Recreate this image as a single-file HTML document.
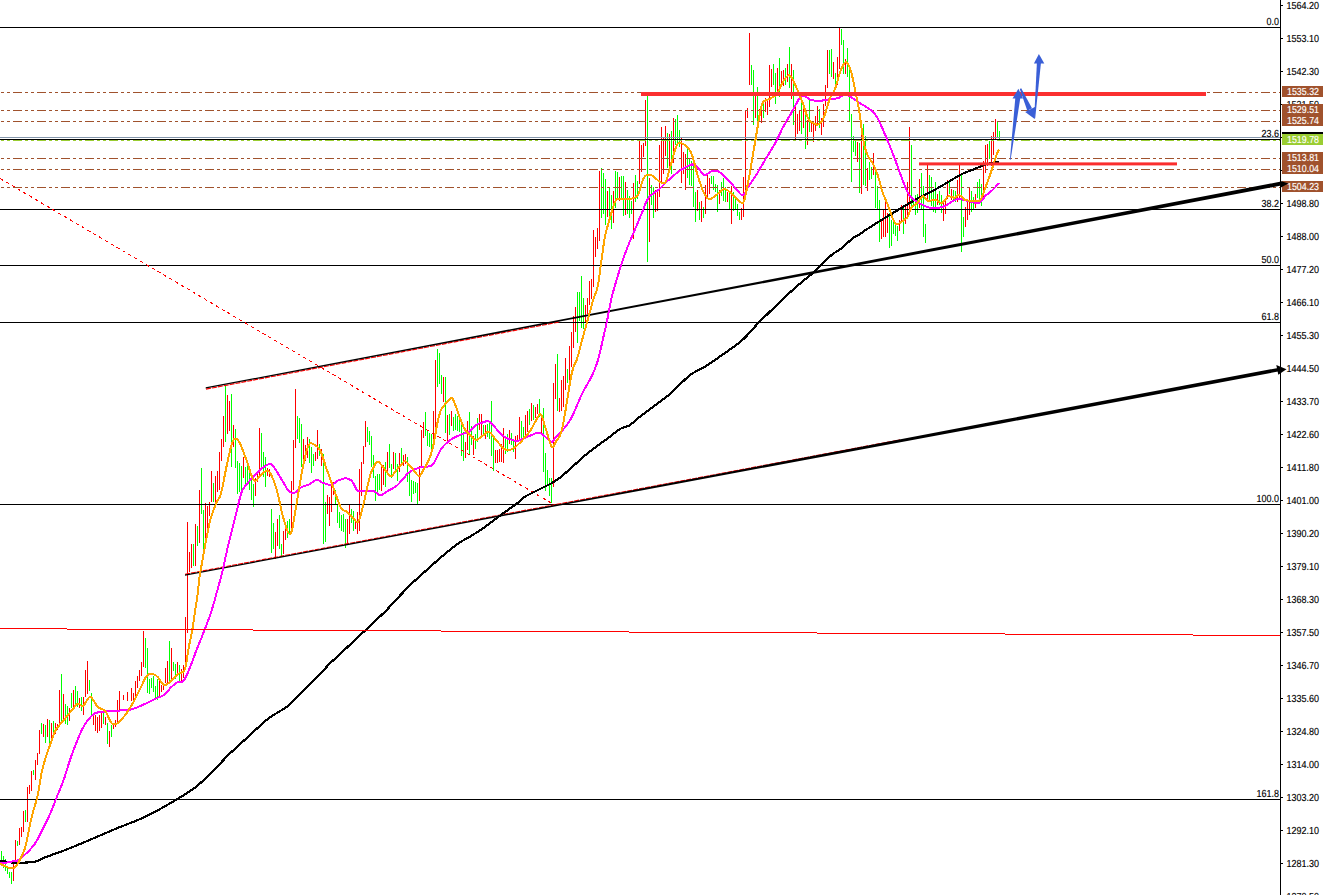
<!DOCTYPE html>
<html><head><meta charset="utf-8"><title>chart</title>
<style>html,body{margin:0;padding:0;background:#fff;overflow:hidden}body{width:1323px;height:895px;position:relative;font-family:"Liberation Sans",sans-serif}</style></head>
<body>
<svg width="1323" height="895" viewBox="0 0 1323 895" style="position:absolute;left:0;top:0">
<rect width="1323" height="895" fill="#fff"/>
<g shape-rendering="crispEdges">
<path d="M1 851v13h1v-13zM3 856v12h1v-12zM5 859v12h1v-12zM7 866v8h1v-8zM9 872v6h1v-6zM11 872v12h1v-12zM17 841v5h1v-5zM25 810v12h1v-12zM33 770v5h1v-5zM41 723v11h1v-11zM45 725v18h1v-18zM49 720v24h1v-24zM53 721v16h1v-16zM61 674v49h1v-49zM65 704v20h1v-20zM67 706v19h1v-19zM71 693v15h1v-15zM75 686v18h1v-18zM77 691v16h1v-16zM81 697v14h1v-14zM89 680v11h1v-11zM91 693v24h1v-24zM103 713v11h1v-11zM107 723v21h1v-21zM111 725v12h1v-12zM145 638v30h1v-30zM147 648v45h1v-45zM149 679v15h1v-15zM151 678v10h1v-10zM153 676v16h1v-16zM155 686v14h1v-14zM157 679v21h1v-21zM169 641v40h1v-40zM173 662v9h1v-9zM175 664v15h1v-15zM179 665v16h1v-16zM193 544v22h1v-22zM197 526v20h1v-20zM201 468v46h1v-46zM203 510v47h1v-47zM213 483v19h1v-19zM225 386v56h1v-56zM231 394v73h1v-73zM235 429v39h1v-39zM237 461v33h1v-33zM239 463v29h1v-29zM241 466v27h1v-27zM245 467v20h1v-20zM247 466v19h1v-19zM249 469v21h1v-21zM251 478v22h1v-22zM253 484v23h1v-23zM261 433v36h1v-36zM263 452v25h1v-25zM265 457v30h1v-30zM271 509v44h1v-44zM273 523v26h1v-26zM279 515v34h1v-34zM281 544v13h1v-13zM287 521v17h1v-17zM289 519v15h1v-15zM297 416v23h1v-23zM299 418v25h1v-25zM301 424v43h1v-43zM309 439v24h1v-24zM311 447v26h1v-26zM313 454v12h1v-12zM319 444v12h1v-12zM323 454v90h1v-90zM325 502v40h1v-40zM335 490v14h1v-14zM337 504v19h1v-19zM339 512v16h1v-16zM341 515v16h1v-16zM343 514v18h1v-18zM345 519v29h1v-29zM351 509v14h1v-14zM353 511v20h1v-20zM367 427v15h1v-15zM369 431v14h1v-14zM371 436v31h1v-31zM373 455v23h1v-23zM375 476v25h1v-25zM377 474v18h1v-18zM379 474v16h1v-16zM385 462v25h1v-25zM389 444v24h1v-24zM391 464v14h1v-14zM395 453v18h1v-18zM397 464v17h1v-17zM401 448v18h1v-18zM407 457v25h1v-25zM409 472v24h1v-24zM411 480v22h1v-22zM413 481v13h1v-13zM415 482v11h1v-11zM417 483v21h1v-21zM425 412v24h1v-24zM427 431v15h1v-15zM429 433v14h1v-14zM431 434v20h1v-20zM437 349v38h1v-38zM439 353v31h1v-31zM441 375v19h1v-19zM445 377v56h1v-56zM449 414v21h1v-21zM453 417v14h1v-14zM455 414v16h1v-16zM457 416v15h1v-15zM459 417v15h1v-15zM461 421v35h1v-35zM463 432v29h1v-29zM469 412v42h1v-42zM471 426v19h1v-19zM475 434v15h1v-15zM477 418v24h1v-24zM483 425v9h1v-9zM487 424v13h1v-13zM489 423v16h1v-16zM491 401v55h1v-55zM493 435v36h1v-36zM505 436v18h1v-18zM507 434v18h1v-18zM511 433v12h1v-12zM513 441v11h1v-11zM521 421v18h1v-18zM523 427v10h1v-10zM529 409v16h1v-16zM533 405v15h1v-15zM539 399v18h1v-18zM543 408v64h1v-64zM545 453v38h1v-38zM547 470v16h1v-16zM549 478v18h1v-18zM551 478v25h1v-25zM557 354v57h1v-57zM567 369v14h1v-14zM577 292v51h1v-51zM579 292v29h1v-29zM581 276v52h1v-52zM583 298v31h1v-31zM601 168v50h1v-50zM603 173v41h1v-41zM605 179v46h1v-46zM609 187v31h1v-31zM611 195v34h1v-34zM615 171v37h1v-37zM617 172v26h1v-26zM621 176v22h1v-22zM623 176v40h1v-40zM627 190v24h1v-24zM629 196v22h1v-22zM631 201v13h1v-13zM635 175v27h1v-27zM637 181v18h1v-18zM647 96v166h1v-166zM651 185v20h1v-20zM653 187v31h1v-31zM667 133v35h1v-35zM671 131v43h1v-43zM675 119v26h1v-26zM677 115v28h1v-28zM679 130v17h1v-17zM687 149v29h1v-29zM689 159v26h1v-26zM691 161v25h1v-25zM693 165v42h1v-42zM695 192v30h1v-30zM699 202v18h1v-18zM703 207v11h1v-11zM711 176v8h1v-8zM713 176v14h1v-14zM715 184v8h1v-8zM717 185v27h1v-27zM721 182v14h1v-14zM723 178v23h1v-23zM725 187v15h1v-15zM729 192v18h1v-18zM733 192v19h1v-19zM735 198v11h1v-11zM737 204v12h1v-12zM739 212v8h1v-8zM751 65v20h1v-20zM753 70v55h1v-55zM757 87v35h1v-35zM763 104v14h1v-14zM773 64v21h1v-21zM775 73v31h1v-31zM779 58v39h1v-39zM785 68v17h1v-17zM789 47v41h1v-41zM793 70v55h1v-55zM801 96v38h1v-38zM805 109v40h1v-40zM809 99v33h1v-33zM819 109v19h1v-19zM829 50v24h1v-24zM831 49v28h1v-28zM835 73v13h1v-13zM841 29v16h1v-16zM843 40v34h1v-34zM847 48v29h1v-29zM849 65v56h1v-56zM851 114v68h1v-68zM853 136v16h1v-16zM855 139v17h1v-17zM859 143v50h1v-50zM863 124v61h1v-61zM865 136v50h1v-50zM869 162v18h1v-18zM871 167v12h1v-12zM875 171v37h1v-37zM877 186v23h1v-23zM879 200v42h1v-42zM889 213v35h1v-35zM891 220v26h1v-26zM893 218v16h1v-16zM895 224v12h1v-12zM897 226v15h1v-15zM903 205v29h1v-29zM911 145v61h1v-61zM913 199v6h1v-6zM915 195v20h1v-20zM917 194v19h1v-19zM921 173v36h1v-36zM923 186v51h1v-51zM925 224v19h1v-19zM929 175v25h1v-25zM931 177v29h1v-29zM933 189v23h1v-23zM935 182v31h1v-31zM939 191v14h1v-14zM941 195v18h1v-18zM949 181v13h1v-13zM953 190v10h1v-10zM955 191v11h1v-11zM961 173v79h1v-79zM963 217v20h1v-20zM971 191v21h1v-21zM973 197v12h1v-12zM977 182v16h1v-16zM979 179v24h1v-24zM981 184v22h1v-22zM989 141v18h1v-18zM997 122v15h1v-15zM999 131v10h1v-10z" fill="#00ff00"/>
<path d="M13 860v21h1v-21zM15 840v23h1v-23zM19 828v17h1v-17zM21 827v10h1v-10zM23 811v21h1v-21zM27 787v35h1v-35zM29 785v9h1v-9zM31 771v20h1v-20zM35 760v20h1v-20zM37 753v12h1v-12zM39 730v24h1v-24zM43 724v13h1v-13zM47 719v18h1v-18zM51 723v15h1v-15zM55 723v11h1v-11zM57 724v6h1v-6zM59 690v35h1v-35zM63 694v27h1v-27zM69 708v13h1v-13zM73 690v17h1v-17zM79 698v10h1v-10zM83 697v18h1v-18zM85 670v27h1v-27zM87 661v33h1v-33zM93 714v11h1v-11zM95 715v16h1v-16zM97 717v16h1v-16zM99 715v16h1v-16zM101 711v17h1v-17zM105 717v8h1v-8zM109 731v16h1v-16zM113 723v6h1v-6zM115 720v7h1v-7zM117 700v23h1v-23zM119 691v20h1v-20zM123 695v5h1v-5zM127 692v9h1v-9zM131 688v13h1v-13zM133 693v8h1v-8zM135 681v15h1v-15zM137 676v12h1v-12zM139 670v11h1v-11zM141 662v14h1v-14zM143 631v36h1v-36zM159 679v18h1v-18zM161 685v7h1v-7zM163 684v6h1v-6zM165 668v15h1v-15zM167 661v22h1v-22zM171 648v33h1v-33zM177 662v14h1v-14zM181 669v12h1v-12zM183 665v13h1v-13zM185 617v52h1v-52zM187 522v111h1v-111zM189 552v20h1v-20zM191 544v24h1v-24zM195 524v42h1v-42zM199 490v53h1v-53zM205 503v38h1v-38zM207 506v32h1v-32zM209 502v14h1v-14zM211 471v31h1v-31zM215 476v26h1v-26zM217 471v21h1v-21zM219 452v38h1v-38zM221 439v22h1v-22zM223 416v31h1v-31zM227 395v39h1v-39zM229 401v30h1v-30zM233 425v22h1v-22zM243 457v21h1v-21zM255 478v18h1v-18zM257 474v8h1v-8zM259 428v50h1v-50zM267 468v8h1v-8zM269 469v8h1v-8zM275 532v27h1v-27zM277 519v27h1v-27zM283 531v23h1v-23zM285 526v14h1v-14zM291 481v53h1v-53zM293 440v50h1v-50zM295 389v59h1v-59zM303 439v25h1v-25zM305 445v16h1v-16zM307 437v21h1v-21zM315 452v9h1v-9zM317 430v29h1v-29zM321 449v17h1v-17zM327 495v19h1v-19zM329 497v29h1v-29zM331 483v29h1v-29zM333 482v13h1v-13zM347 519v25h1v-25zM349 505v29h1v-29zM355 522v7h1v-7zM357 512v22h1v-22zM359 469v62h1v-62zM361 462v34h1v-34zM363 446v18h1v-18zM365 421v26h1v-26zM381 466v25h1v-25zM383 465v20h1v-20zM387 452v20h1v-20zM393 452v17h1v-17zM399 453v19h1v-19zM403 455v11h1v-11zM405 454v10h1v-10zM419 466v35h1v-35zM421 430v38h1v-38zM423 422v16h1v-16zM433 411v38h1v-38zM435 360v68h1v-68zM443 377v25h1v-25zM447 415v27h1v-27zM451 411v15h1v-15zM465 442v16h1v-16zM467 421v29h1v-29zM473 436v19h1v-19zM479 414v16h1v-16zM481 414v22h1v-22zM485 425v14h1v-14zM495 450v13h1v-13zM497 450v13h1v-13zM499 449v13h1v-13zM501 444v18h1v-18zM503 428v35h1v-35zM509 430v14h1v-14zM515 436v23h1v-23zM517 435v7h1v-7zM519 417v24h1v-24zM525 415v20h1v-20zM527 411v21h1v-21zM531 403v18h1v-18zM535 407v11h1v-11zM537 404v10h1v-10zM541 414v19h1v-19zM553 383v104h1v-104zM555 364v35h1v-35zM559 398v14h1v-14zM561 380v31h1v-31zM563 376v31h1v-31zM565 358v32h1v-32zM569 346v39h1v-39zM571 332v35h1v-35zM573 316v32h1v-32zM575 307v25h1v-25zM585 305v18h1v-18zM587 298v16h1v-16zM589 281v24h1v-24zM591 279v20h1v-20zM593 230v57h1v-57zM595 237v20h1v-20zM597 228v21h1v-21zM599 171v70h1v-70zM607 191v26h1v-26zM613 191v32h1v-32zM619 177v24h1v-24zM625 182v33h1v-33zM633 183v56h1v-56zM639 140v44h1v-44zM641 145v27h1v-27zM643 143v14h1v-14zM645 100v46h1v-46zM649 178v64h1v-64zM655 190v22h1v-22zM657 191v20h1v-20zM659 145v52h1v-52zM661 127v56h1v-56zM663 138v36h1v-36zM665 126v30h1v-30zM669 134v37h1v-37zM673 118v45h1v-45zM681 138v45h1v-45zM683 152v22h1v-22zM685 154v36h1v-36zM697 190v21h1v-21zM701 201v21h1v-21zM705 185v29h1v-29zM707 173v26h1v-26zM709 178v16h1v-16zM719 190v14h1v-14zM727 192v10h1v-10zM731 186v38h1v-38zM741 208v12h1v-12zM743 177v40h1v-40zM745 110v80h1v-80zM747 108v10h1v-10zM749 33v52h1v-52zM755 96v22h1v-22zM759 109v12h1v-12zM761 106v17h1v-17zM765 98v14h1v-14zM767 99v16h1v-16zM769 65v42h1v-42zM771 69v18h1v-18zM777 68v24h1v-24zM781 71v16h1v-16zM783 70v16h1v-16zM787 64v18h1v-18zM791 64v35h1v-35zM795 107v32h1v-32zM797 114v20h1v-20zM799 111v20h1v-20zM803 107v21h1v-21zM807 120v25h1v-25zM811 122v10h1v-10zM813 123v19h1v-19zM815 116v15h1v-15zM817 106v19h1v-19zM821 118v17h1v-17zM823 104v23h1v-23zM825 85v21h1v-21zM827 50v38h1v-38zM833 62v17h1v-17zM837 57v28h1v-28zM839 28v41h1v-41zM845 59v15h1v-15zM857 142v20h1v-20zM861 120v74h1v-74zM867 168v23h1v-23zM873 153v22h1v-22zM881 221v18h1v-18zM883 209v28h1v-28zM885 199v38h1v-38zM887 213v20h1v-20zM899 220v11h1v-11zM901 205v16h1v-16zM905 206v18h1v-18zM907 182v35h1v-35zM909 127v87h1v-87zM919 179v29h1v-29zM927 165v37h1v-37zM937 194v11h1v-11zM943 200v21h1v-21zM945 199v15h1v-15zM947 180v19h1v-19zM951 189v11h1v-11zM957 180v22h1v-22zM959 165v35h1v-35zM965 207v20h1v-20zM967 200v20h1v-20zM969 188v27h1v-27zM975 194v14h1v-14zM983 161v39h1v-39zM985 145v28h1v-28zM987 144v22h1v-22zM991 136v30h1v-30zM993 132v23h1v-23zM995 119v21h1v-21z" fill="#ff0000"/>
</g>
<g shape-rendering="crispEdges" fill="#000">
<rect x="0" y="27" width="1280" height="1"/>
<rect x="0" y="139" width="1280" height="1"/>
<rect x="0" y="209" width="1280" height="1"/>
<rect x="0" y="265" width="1280" height="1"/>
<rect x="0" y="322" width="1280" height="1"/>
<rect x="0" y="504" width="1280" height="1"/>
<rect x="0" y="799" width="1280" height="1"/>
</g>
<rect x="0" y="137" width="1280" height="1" fill="#8496ab" shape-rendering="crispEdges"/>
<line x1="0" y1="178.5" x2="552" y2="503.5" stroke="#ff0000" stroke-width="1" stroke-dasharray="3.4 3.37" shape-rendering="crispEdges"/>
<line x1="-11" y1="92.5" x2="1280" y2="92.5" stroke="#a0522d" stroke-width="1" stroke-dasharray="9 3 3 3 3 3" shape-rendering="crispEdges"/>
<line x1="-11" y1="110.5" x2="1280" y2="110.5" stroke="#a0522d" stroke-width="1" stroke-dasharray="9 3 3 3 3 3" shape-rendering="crispEdges"/>
<line x1="-11" y1="121.5" x2="1280" y2="121.5" stroke="#a0522d" stroke-width="1" stroke-dasharray="9 3 3 3 3 3" shape-rendering="crispEdges"/>
<line x1="-11" y1="158.5" x2="1280" y2="158.5" stroke="#a0522d" stroke-width="1" stroke-dasharray="9 3 3 3 3 3" shape-rendering="crispEdges"/>
<line x1="-11" y1="169.5" x2="1280" y2="169.5" stroke="#a0522d" stroke-width="1" stroke-dasharray="9 3 3 3 3 3" shape-rendering="crispEdges"/>
<line x1="-11" y1="187.5" x2="1280" y2="187.5" stroke="#a0522d" stroke-width="1" stroke-dasharray="9 3 3 3 3 3" shape-rendering="crispEdges"/>
<line x1="-11" y1="140.5" x2="1280" y2="140.5" stroke="#9acd32" stroke-width="1" stroke-dasharray="9 3 3 3 3 3" shape-rendering="crispEdges"/>
<line x1="206" y1="389.0997" x2="560" y2="321.822" stroke="#ff0000" stroke-width="1.2" stroke-dasharray="5 1"/>
<line x1="185" y1="574.2874" x2="900" y2="439.8960000000001" stroke="#ff0000" stroke-width="1.2" stroke-dasharray="5 1"/>
<polygon points="205.7,387.36 440.0,342.68 630.0,306.32 930.0,248.80 1070.0,221.90 1281.0,181.60 1281.0,185.60 1070.0,225.50 930.0,251.80 630.0,308.32 440.0,344.18 205.7,388.56" fill="#000"/>
<polygon points="185.0,574.59 560.0,503.90 640.0,488.67 860.0,446.91 1000.0,420.35 1278.0,367.90 1278.0,371.60 1000.0,423.65 860.0,449.71 640.0,490.67 560.0,505.50 185.0,575.79" fill="#000"/>
<polyline points="0.0,861.0 1.0,861.1 2.0,861.1 3.0,861.2 4.0,861.3 5.0,861.4 6.0,861.6 7.0,861.7 8.0,861.8 9.0,862.0 10.0,862.2 11.0,862.4 12.0,862.6 13.0,862.7 14.0,862.8 15.0,862.9 16.0,862.9 17.0,862.9 18.0,862.9 19.0,862.9 20.0,862.9 21.0,862.8 22.0,862.7 23.0,862.7 24.0,862.6 25.0,862.6 26.0,862.5 27.0,862.5 28.0,862.4 29.0,862.3 30.0,862.3 31.0,862.2 32.0,862.1 33.0,861.9 34.0,861.8 35.0,861.6 36.0,861.3 37.0,861.1 38.0,860.7 39.0,860.2 40.0,859.7 41.0,859.1 42.0,858.6 43.0,858.2 44.0,857.8 45.0,857.4 46.0,857.1 47.0,856.7 48.0,856.3 49.0,855.9 50.0,855.6 51.0,855.2 52.0,854.8 53.0,854.5 54.0,854.1 55.0,853.8 56.0,853.4 57.0,853.1 58.0,852.7 59.0,852.4 60.0,852.0 61.0,851.6 62.0,851.2 63.0,850.9 64.0,850.5 65.0,850.1 66.0,849.7 67.0,849.3 68.0,848.9 69.0,848.5 70.0,848.1 71.0,847.7 72.0,847.3 73.0,846.9 74.0,846.5 75.0,846.1 76.0,845.7 77.0,845.2 78.0,844.8 79.0,844.4 80.0,844.0 81.0,843.6 82.0,843.2 83.0,842.7 84.0,842.3 85.0,841.9 86.0,841.5 87.0,841.1 88.0,840.6 89.0,840.2 90.0,839.8 91.0,839.4 92.0,838.9 93.0,838.5 94.0,838.1 95.0,837.7 96.0,837.2 97.0,836.8 98.0,836.4 99.0,835.9 100.0,835.5 101.0,835.1 102.0,834.6 103.0,834.2 104.0,833.8 105.0,833.4 106.0,832.9 107.0,832.5 108.0,832.1 109.0,831.6 110.0,831.2 111.0,830.8 112.0,830.4 113.0,829.9 114.0,829.5 115.0,829.1 116.0,828.7 117.0,828.3 118.0,827.8 119.0,827.4 120.0,827.0 121.0,826.6 122.0,826.3 123.0,825.9 124.0,825.5 125.0,825.1 126.0,824.7 127.0,824.3 128.0,823.9 129.0,823.5 130.0,823.1 131.0,822.7 132.0,822.4 133.0,822.0 134.0,821.6 135.0,821.2 136.0,820.8 137.0,820.3 138.0,819.9 139.0,819.5 140.0,819.1 141.0,818.7 142.0,818.2 143.0,817.8 144.0,817.3 145.0,816.9 146.0,816.4 147.0,815.9 148.0,815.4 149.0,814.9 150.0,814.4 151.0,813.9 152.0,813.4 153.0,812.9 154.0,812.3 155.0,811.8 156.0,811.2 157.0,810.7 158.0,810.1 159.0,809.6 160.0,809.0 161.0,808.5 162.0,807.9 163.0,807.3 164.0,806.8 165.0,806.2 166.0,805.6 167.0,805.0 168.0,804.5 169.0,803.9 170.0,803.3 171.0,802.7 172.0,802.1 173.0,801.6 174.0,801.0 175.0,800.4 176.0,799.8 177.0,799.2 178.0,798.6 179.0,798.0 180.0,797.4 181.0,796.8 182.0,796.2 183.0,795.6 184.0,794.9 185.0,794.3 186.0,793.7 187.0,793.1 188.0,792.4 189.0,791.8 190.0,791.1 191.0,790.4 192.0,789.8 193.0,789.1 194.0,788.3 195.0,787.6 196.0,786.8 197.0,786.0 198.0,785.1 199.0,784.3 200.0,783.4 201.0,782.5 202.0,781.6 203.0,780.7 204.0,779.7 205.0,778.8 206.0,777.9 207.0,776.9 208.0,776.0 209.0,775.0 210.0,774.0 211.0,773.1 212.0,772.1 213.0,771.1 214.0,770.1 215.0,769.1 216.0,768.1 217.0,767.1 218.0,766.0 219.0,764.9 220.0,763.8 221.0,762.7 222.0,761.6 223.0,760.5 224.0,759.5 225.0,758.4 226.0,757.3 227.0,756.3 228.0,755.2 229.0,754.2 230.0,753.3 231.0,752.4 232.0,751.5 233.0,750.6 234.0,749.7 235.0,748.8 236.0,747.9 237.0,747.0 238.0,746.1 239.0,745.1 240.0,744.2 241.0,743.3 242.0,742.4 243.0,741.4 244.0,740.5 245.0,739.6 246.0,738.7 247.0,737.7 248.0,736.8 249.0,735.9 250.0,735.0 251.0,734.0 252.0,733.1 253.0,732.2 254.0,731.3 255.0,730.3 256.0,729.4 257.0,728.5 258.0,727.6 259.0,726.7 260.0,725.7 261.0,724.8 262.0,723.9 263.0,723.0 264.0,722.1 265.0,721.3 266.0,720.5 267.0,719.7 268.0,719.0 269.0,718.2 270.0,717.5 271.0,716.8 272.0,716.1 273.0,715.5 274.0,714.8 275.0,714.2 276.0,713.5 277.0,712.9 278.0,712.3 279.0,711.7 280.0,711.1 281.0,710.5 282.0,709.9 283.0,709.3 284.0,708.6 285.0,707.9 286.0,707.3 287.0,706.6 288.0,705.9 289.0,705.1 290.0,704.2 291.0,703.3 292.0,702.3 293.0,701.4 294.0,700.4 295.0,699.4 296.0,698.3 297.0,697.3 298.0,696.3 299.0,695.3 300.0,694.2 301.0,693.2 302.0,692.1 303.0,691.1 304.0,690.1 305.0,689.0 306.0,688.0 307.0,687.0 308.0,686.0 309.0,685.0 310.0,684.0 311.0,683.0 312.0,682.0 313.0,681.1 314.0,680.1 315.0,679.1 316.0,678.1 317.0,677.2 318.0,676.2 319.0,675.2 320.0,674.2 321.0,673.2 322.0,672.1 323.0,671.0 324.0,669.9 325.0,668.7 326.0,667.6 327.0,666.4 328.0,665.3 329.0,664.3 330.0,663.3 331.0,662.4 332.0,661.4 333.0,660.5 334.0,659.6 335.0,658.6 336.0,657.7 337.0,656.8 338.0,655.9 339.0,654.9 340.0,654.0 341.0,653.1 342.0,652.2 343.0,651.2 344.0,650.3 345.0,649.4 346.0,648.4 347.0,647.5 348.0,646.5 349.0,645.6 350.0,644.7 351.0,643.7 352.0,642.8 353.0,641.8 354.0,640.9 355.0,640.0 356.0,639.0 357.0,638.1 358.0,637.1 359.0,636.2 360.0,635.3 361.0,634.3 362.0,633.4 363.0,632.4 364.0,631.5 365.0,630.6 366.0,629.6 367.0,628.7 368.0,627.7 369.0,626.8 370.0,625.8 371.0,624.9 372.0,624.0 373.0,623.0 374.0,622.1 375.0,621.1 376.0,620.2 377.0,619.3 378.0,618.3 379.0,617.4 380.0,616.4 381.0,615.5 382.0,614.5 383.0,613.6 384.0,612.6 385.0,611.6 386.0,610.6 387.0,609.6 388.0,608.6 389.0,607.5 390.0,606.4 391.0,605.3 392.0,604.2 393.0,603.1 394.0,602.0 395.0,600.9 396.0,599.8 397.0,598.7 398.0,597.7 399.0,596.6 400.0,595.6 401.0,594.5 402.0,593.5 403.0,592.5 404.0,591.4 405.0,590.4 406.0,589.3 407.0,588.3 408.0,587.3 409.0,586.3 410.0,585.3 411.0,584.3 412.0,583.3 413.0,582.4 414.0,581.4 415.0,580.5 416.0,579.6 417.0,578.7 418.0,577.8 419.0,576.9 420.0,576.0 421.0,575.1 422.0,574.2 423.0,573.3 424.0,572.4 425.0,571.5 426.0,570.6 427.0,569.7 428.0,568.8 429.0,567.9 430.0,567.0 431.0,566.1 432.0,565.2 433.0,564.3 434.0,563.4 435.0,562.5 436.0,561.7 437.0,560.8 438.0,559.9 439.0,559.0 440.0,558.1 441.0,557.3 442.0,556.4 443.0,555.6 444.0,554.8 445.0,554.0 446.0,553.1 447.0,552.3 448.0,551.5 449.0,550.7 450.0,549.9 451.0,549.1 452.0,548.2 453.0,547.5 454.0,546.7 455.0,545.9 456.0,545.1 457.0,544.4 458.0,543.7 459.0,543.0 460.0,542.3 461.0,541.7 462.0,541.1 463.0,540.5 464.0,539.9 465.0,539.4 466.0,538.8 467.0,538.3 468.0,537.7 469.0,537.2 470.0,536.6 471.0,536.0 472.0,535.4 473.0,534.8 474.0,534.2 475.0,533.5 476.0,532.9 477.0,532.2 478.0,531.6 479.0,531.0 480.0,530.3 481.0,529.6 482.0,529.0 483.0,528.3 484.0,527.6 485.0,526.9 486.0,526.2 487.0,525.5 488.0,524.7 489.0,524.0 490.0,523.2 491.0,522.5 492.0,521.7 493.0,520.9 494.0,520.2 495.0,519.4 496.0,518.6 497.0,517.9 498.0,517.1 499.0,516.4 500.0,515.7 501.0,514.9 502.0,514.2 503.0,513.5 504.0,512.8 505.0,512.1 506.0,511.3 507.0,510.6 508.0,509.9 509.0,509.2 510.0,508.5 511.0,507.8 512.0,507.1 513.0,506.4 514.0,505.7 515.0,505.0 516.0,504.2 517.0,503.4 518.0,502.6 519.0,501.7 520.0,500.8 521.0,500.0 522.0,499.1 523.0,498.3 524.0,497.5 525.0,496.7 526.0,496.1 527.0,495.5 528.0,495.0 529.0,494.5 530.0,494.0 531.0,493.5 532.0,493.0 533.0,492.5 534.0,492.0 535.0,491.5 536.0,491.0 537.0,490.5 538.0,490.0 539.0,489.5 540.0,489.0 541.0,488.5 542.0,488.0 543.0,487.5 544.0,487.0 545.0,486.5 546.0,486.0 547.0,485.5 548.0,485.0 549.0,484.5 550.0,484.0 551.0,483.5 552.0,483.0 553.0,482.4 554.0,481.8 555.0,481.2 556.0,480.5 557.0,479.8 558.0,479.1 559.0,478.4 560.0,477.6 561.0,476.8 562.0,475.9 563.0,475.1 564.0,474.2 565.0,473.4 566.0,472.5 567.0,471.6 568.0,470.8 569.0,469.9 570.0,469.0 571.0,468.1 572.0,467.2 573.0,466.3 574.0,465.4 575.0,464.4 576.0,463.5 577.0,462.6 578.0,461.6 579.0,460.7 580.0,459.8 581.0,458.9 582.0,458.0 583.0,457.1 584.0,456.2 585.0,455.4 586.0,454.6 587.0,453.8 588.0,453.0 589.0,452.2 590.0,451.5 591.0,450.7 592.0,450.0 593.0,449.2 594.0,448.5 595.0,447.7 596.0,447.0 597.0,446.2 598.0,445.5 599.0,444.8 600.0,444.0 601.0,443.3 602.0,442.5 603.0,441.8 604.0,441.0 605.0,440.3 606.0,439.6 607.0,438.8 608.0,438.1 609.0,437.3 610.0,436.6 611.0,435.8 612.0,435.1 613.0,434.3 614.0,433.5 615.0,432.8 616.0,432.0 617.0,431.3 618.0,430.5 619.0,429.8 620.0,429.1 621.0,428.5 622.0,428.0 623.0,427.6 624.0,427.3 625.0,427.0 626.0,426.7 627.0,426.4 628.0,426.0 629.0,425.6 630.0,425.0 631.0,424.3 632.0,423.5 633.0,422.6 634.0,421.8 635.0,420.9 636.0,420.0 637.0,419.2 638.0,418.3 639.0,417.5 640.0,416.7 641.0,415.9 642.0,415.2 643.0,414.4 644.0,413.7 645.0,412.9 646.0,412.2 647.0,411.4 648.0,410.7 649.0,409.9 650.0,409.2 651.0,408.4 652.0,407.7 653.0,406.9 654.0,406.1 655.0,405.4 656.0,404.7 657.0,403.9 658.0,403.2 659.0,402.4 660.0,401.7 661.0,400.9 662.0,400.2 663.0,399.4 664.0,398.7 665.0,397.9 666.0,397.2 667.0,396.4 668.0,395.7 669.0,394.9 670.0,394.0 671.0,393.1 672.0,392.2 673.0,391.3 674.0,390.3 675.0,389.4 676.0,388.4 677.0,387.4 678.0,386.4 679.0,385.4 680.0,384.4 681.0,383.4 682.0,382.4 683.0,381.4 684.0,380.5 685.0,379.5 686.0,378.6 687.0,377.7 688.0,376.9 689.0,376.0 690.0,375.2 691.0,374.5 692.0,373.8 693.0,373.1 694.0,372.5 695.0,371.9 696.0,371.3 697.0,370.8 698.0,370.3 699.0,369.8 700.0,369.3 701.0,368.7 702.0,368.2 703.0,367.7 704.0,367.1 705.0,366.6 706.0,365.9 707.0,365.3 708.0,364.6 709.0,364.0 710.0,363.3 711.0,362.6 712.0,362.0 713.0,361.3 714.0,360.6 715.0,359.9 716.0,359.2 717.0,358.6 718.0,357.9 719.0,357.2 720.0,356.5 721.0,355.8 722.0,355.1 723.0,354.4 724.0,353.7 725.0,353.0 726.0,352.3 727.0,351.6 728.0,350.9 729.0,350.2 730.0,349.5 731.0,348.8 732.0,348.1 733.0,347.4 734.0,346.6 735.0,345.9 736.0,345.2 737.0,344.4 738.0,343.6 739.0,342.8 740.0,342.0 741.0,341.2 742.0,340.3 743.0,339.4 744.0,338.5 745.0,337.5 746.0,336.5 747.0,335.5 748.0,334.4 749.0,333.4 750.0,332.3 751.0,331.1 752.0,330.0 753.0,328.9 754.0,327.8 755.0,326.6 756.0,325.5 757.0,324.4 758.0,323.4 759.0,322.3 760.0,321.3 761.0,320.3 762.0,319.3 763.0,318.4 764.0,317.4 765.0,316.4 766.0,315.4 767.0,314.5 768.0,313.5 769.0,312.5 770.0,311.5 771.0,310.6 772.0,309.6 773.0,308.6 774.0,307.7 775.0,306.7 776.0,305.7 777.0,304.7 778.0,303.8 779.0,302.8 780.0,301.8 781.0,300.9 782.0,299.9 783.0,298.9 784.0,298.0 785.0,297.0 786.0,296.1 787.0,295.2 788.0,294.3 789.0,293.3 790.0,292.4 791.0,291.5 792.0,290.6 793.0,289.8 794.0,288.9 795.0,288.0 796.0,287.1 797.0,286.2 798.0,285.3 799.0,284.4 800.0,283.6 801.0,282.7 802.0,281.9 803.0,281.0 804.0,280.2 805.0,279.4 806.0,278.6 807.0,277.8 808.0,277.0 809.0,276.2 810.0,275.4 811.0,274.5 812.0,273.6 813.0,272.7 814.0,271.8 815.0,270.9 816.0,269.9 817.0,268.9 818.0,267.9 819.0,266.9 820.0,265.9 821.0,264.9 822.0,263.9 823.0,263.0 824.0,262.0 825.0,261.1 826.0,260.1 827.0,259.2 828.0,258.3 829.0,257.3 830.0,256.4 831.0,255.5 832.0,254.7 833.0,253.9 834.0,253.1 835.0,252.5 836.0,251.9 837.0,251.3 838.0,250.7 839.0,250.0 840.0,249.4 841.0,248.6 842.0,247.8 843.0,247.0 844.0,246.1 845.0,245.2 846.0,244.2 847.0,243.3 848.0,242.4 849.0,241.5 850.0,240.7 851.0,239.8 852.0,239.0 853.0,238.1 854.0,237.4 855.0,236.6 856.0,236.0 857.0,235.6 858.0,235.2 859.0,234.8 860.0,234.2 861.0,233.5 862.0,232.8 863.0,232.0 864.0,231.3 865.0,230.5 866.0,229.8 867.0,229.2 868.0,228.5 869.0,227.9 870.0,227.2 871.0,226.6 872.0,225.9 873.0,225.3 874.0,224.6 875.0,224.0 876.0,223.4 877.0,222.7 878.0,222.1 879.0,221.5 880.0,220.9 881.0,220.3 882.0,219.7 883.0,219.1 884.0,218.5 885.0,217.9 886.0,217.3 887.0,216.7 888.0,216.0 889.0,215.4 890.0,214.8 891.0,214.2 892.0,213.6 893.0,213.0 894.0,212.4 895.0,211.8 896.0,211.2 897.0,210.6 898.0,210.0 899.0,209.4 900.0,208.8 901.0,208.2 902.0,207.6 903.0,207.0 904.0,206.4 905.0,205.8 906.0,205.2 907.0,204.6 908.0,204.0 909.0,203.4 910.0,202.8 911.0,202.2 912.0,201.7 913.0,201.1 914.0,200.5 915.0,200.0 916.0,199.4 917.0,198.9 918.0,198.3 919.0,197.8 920.0,197.3 921.0,196.7 922.0,196.2 923.0,195.7 924.0,195.2 925.0,194.7 926.0,194.2 927.0,193.7 928.0,193.3 929.0,192.8 930.0,192.3 931.0,191.8 932.0,191.3 933.0,190.8 934.0,190.3 935.0,189.7 936.0,189.1 937.0,188.5 938.0,188.0 939.0,187.4 940.0,186.8 941.0,186.2 942.0,185.6 943.0,185.1 944.0,184.5 945.0,183.9 946.0,183.3 947.0,182.7 948.0,182.1 949.0,181.5 950.0,181.0 951.0,180.3 952.0,179.7 953.0,179.1 954.0,178.5 955.0,177.9 956.0,177.3 957.0,176.7 958.0,176.1 959.0,175.6 960.0,175.0 961.0,174.5 962.0,174.0 963.0,173.5 964.0,173.1 965.0,172.7 966.0,172.3 967.0,171.9 968.0,171.5 969.0,171.1 970.0,170.7 971.0,170.4 972.0,170.0 973.0,169.6 974.0,169.1 975.0,168.7 976.0,168.3 977.0,167.9 978.0,167.5 979.0,167.1 980.0,166.7 981.0,166.3 982.0,165.9 983.0,165.5 984.0,165.1 985.0,164.7 986.0,164.4 987.0,164.1 988.0,163.8 989.0,163.6 990.0,163.4 991.0,163.2 992.0,163.0 993.0,162.8 994.0,162.6 995.0,162.5 996.0,162.4 997.0,162.2 998.0,162.1 999.0,162.0" fill="none" stroke="#000" stroke-width="2.2" stroke-linejoin="round" shape-rendering="crispEdges"/>
<polyline points="0.0,863.0 1.0,863.0 2.0,863.0 3.0,862.9 4.0,862.9 5.0,862.8 6.0,862.7 7.0,862.5 8.0,862.3 9.0,862.1 10.0,861.9 11.0,861.7 12.0,861.5 13.0,861.4 14.0,861.2 15.0,861.1 16.0,860.9 17.0,860.7 18.0,860.3 19.0,859.7 20.0,858.9 21.0,858.1 22.0,857.2 23.0,856.3 24.0,855.4 25.0,854.5 26.0,853.6 27.0,852.6 28.0,851.6 29.0,850.6 30.0,849.6 31.0,848.5 32.0,847.4 33.0,846.2 34.0,844.9 35.0,843.5 36.0,841.9 37.0,840.2 38.0,838.4 39.0,836.5 40.0,834.6 41.0,832.6 42.0,830.7 43.0,828.7 44.0,826.7 45.0,824.6 46.0,822.6 47.0,820.5 48.0,818.4 49.0,816.3 50.0,814.1 51.0,811.7 52.0,809.2 53.0,806.7 54.0,804.1 55.0,801.5 56.0,799.0 57.0,796.5 58.0,794.1 59.0,791.7 60.0,789.2 61.0,786.8 62.0,784.3 63.0,781.7 64.0,779.0 65.0,776.0 66.0,772.8 67.0,769.6 68.0,766.3 69.0,763.1 70.0,760.0 71.0,757.0 72.0,754.2 73.0,751.4 74.0,748.7 75.0,746.1 76.0,743.6 77.0,741.1 78.0,738.7 79.0,736.3 80.0,734.0 81.0,731.8 82.0,729.7 83.0,727.8 84.0,726.0 85.0,724.3 86.0,722.7 87.0,721.3 88.0,720.0 89.0,718.8 90.0,717.6 91.0,716.5 92.0,715.5 93.0,714.7 94.0,713.9 95.0,713.3 96.0,712.9 97.0,712.6 98.0,712.4 99.0,712.3 100.0,712.1 101.0,712.0 102.0,711.8 103.0,711.7 104.0,711.6 105.0,711.4 106.0,711.3 107.0,711.2 108.0,711.1 109.0,711.0 110.0,710.9 111.0,710.8 112.0,710.7 113.0,710.7 114.0,710.6 115.0,710.5 116.0,710.5 117.0,710.5 118.0,710.5 119.0,710.5 120.0,710.5 121.0,710.4 122.0,710.4 123.0,710.4 124.0,710.4 125.0,710.3 126.0,710.2 127.0,710.1 128.0,710.0 129.0,709.8 130.0,709.6 131.0,709.4 132.0,709.1 133.0,708.8 134.0,708.5 135.0,708.2 136.0,707.8 137.0,707.4 138.0,707.0 139.0,706.6 140.0,706.1 141.0,705.7 142.0,705.2 143.0,704.8 144.0,704.3 145.0,703.8 146.0,703.4 147.0,702.9 148.0,702.4 149.0,701.9 150.0,701.4 151.0,700.9 152.0,700.4 153.0,699.9 154.0,699.4 155.0,699.0 156.0,698.5 157.0,698.0 158.0,697.6 159.0,697.2 160.0,696.8 161.0,696.4 162.0,696.0 163.0,695.5 164.0,694.8 165.0,694.0 166.0,693.0 167.0,691.9 168.0,690.7 169.0,689.6 170.0,688.4 171.0,687.4 172.0,686.4 173.0,685.5 174.0,684.7 175.0,683.9 176.0,683.2 177.0,682.5 178.0,682.1 179.0,682.1 180.0,682.2 181.0,682.2 182.0,681.8 183.0,681.2 184.0,680.2 185.0,678.7 186.0,676.8 187.0,674.5 188.0,672.2 189.0,669.8 190.0,667.3 191.0,664.7 192.0,662.1 193.0,659.4 194.0,656.7 195.0,654.0 196.0,651.3 197.0,648.7 198.0,646.3 199.0,643.8 200.0,641.4 201.0,639.0 202.0,636.5 203.0,634.0 204.0,631.4 205.0,628.8 206.0,626.2 207.0,623.6 208.0,620.9 209.0,618.2 210.0,615.4 211.0,612.5 212.0,609.3 213.0,606.0 214.0,602.5 215.0,598.9 216.0,595.3 217.0,591.6 218.0,588.0 219.0,584.4 220.0,580.7 221.0,577.0 222.0,573.3 223.0,569.5 224.0,565.3 225.0,559.6 226.0,555.1 227.0,550.6 228.0,546.2 229.0,541.9 230.0,537.8 231.0,533.8 232.0,529.8 233.0,525.9 234.0,521.9 235.0,518.0 236.0,514.0 237.0,509.9 238.0,505.7 239.0,501.5 240.0,497.5 241.0,493.9 242.0,491.2 243.0,489.1 244.0,487.5 245.0,486.3 246.0,485.2 247.0,484.0 248.0,482.8 249.0,481.5 250.0,480.3 251.0,479.1 252.0,478.0 253.0,476.9 254.0,475.8 255.0,474.8 256.0,473.8 257.0,472.8 258.0,471.8 259.0,470.9 260.0,470.0 261.0,469.1 262.0,468.2 263.0,467.5 264.0,466.8 265.0,466.1 266.0,465.6 267.0,465.1 268.0,464.6 269.0,464.3 270.0,464.1 271.0,464.3 272.0,464.8 273.0,465.7 274.0,467.0 275.0,468.6 276.0,470.2 277.0,471.8 278.0,473.5 279.0,475.2 280.0,476.8 281.0,478.5 282.0,480.2 283.0,481.9 284.0,483.6 285.0,485.3 286.0,487.0 287.0,488.6 288.0,489.9 289.0,491.1 290.0,492.0 291.0,492.6 292.0,493.1 293.0,493.2 294.0,493.0 295.0,492.6 296.0,492.0 297.0,491.3 298.0,490.4 299.0,489.4 300.0,488.5 301.0,487.6 302.0,487.0 303.0,486.6 304.0,486.2 305.0,485.9 306.0,485.6 307.0,485.3 308.0,484.9 309.0,484.5 310.0,483.9 311.0,483.2 312.0,482.4 313.0,481.7 314.0,481.0 315.0,480.4 316.0,480.1 317.0,480.0 318.0,480.2 319.0,480.6 320.0,481.2 321.0,481.8 322.0,482.4 323.0,482.8 324.0,483.2 325.0,483.6 326.0,484.0 327.0,484.3 328.0,484.6 329.0,484.9 330.0,485.0 331.0,485.0 332.0,484.8 333.0,484.2 334.0,483.5 335.0,482.7 336.0,481.9 337.0,481.2 338.0,480.6 339.0,480.2 340.0,479.8 341.0,479.4 342.0,479.1 343.0,478.8 344.0,478.5 345.0,478.3 346.0,478.3 347.0,478.4 348.0,478.7 349.0,479.2 350.0,479.7 351.0,480.3 352.0,481.2 353.0,482.7 354.0,484.6 355.0,486.7 356.0,488.6 357.0,490.1 358.0,490.7 359.0,490.8 360.0,490.9 361.0,491.0 362.0,491.0 363.0,491.0 364.0,491.0 365.0,491.0 366.0,491.0 367.0,491.0 368.0,490.9 369.0,490.9 370.0,490.8 371.0,490.7 372.0,490.7 373.0,490.7 374.0,491.1 375.0,491.7 376.0,492.4 377.0,493.3 378.0,494.1 379.0,494.8 380.0,495.2 381.0,495.2 382.0,494.8 383.0,494.2 384.0,493.6 385.0,492.9 386.0,492.2 387.0,491.5 388.0,490.9 389.0,490.3 390.0,489.8 391.0,489.3 392.0,488.7 393.0,488.2 394.0,487.6 395.0,487.0 396.0,486.3 397.0,485.4 398.0,484.5 399.0,483.5 400.0,482.4 401.0,481.3 402.0,480.3 403.0,479.1 404.0,477.9 405.0,476.6 406.0,475.4 407.0,474.3 408.0,473.3 409.0,472.5 410.0,471.7 411.0,471.0 412.0,470.5 413.0,469.9 414.0,469.5 415.0,469.1 416.0,468.8 417.0,468.4 418.0,468.1 419.0,467.8 420.0,467.5 421.0,467.2 422.0,466.9 423.0,466.7 424.0,466.6 425.0,466.6 426.0,466.6 427.0,466.6 428.0,466.5 429.0,466.4 430.0,466.2 431.0,465.9 432.0,465.3 433.0,464.4 434.0,462.9 435.0,461.1 436.0,459.0 437.0,457.0 438.0,455.0 439.0,452.8 440.0,450.8 441.0,449.2 442.0,447.9 443.0,446.6 444.0,445.5 445.0,444.5 446.0,443.6 447.0,442.8 448.0,441.9 449.0,441.1 450.0,440.3 451.0,439.6 452.0,438.9 453.0,438.2 454.0,437.7 455.0,437.2 456.0,436.7 457.0,436.2 458.0,435.8 459.0,435.4 460.0,435.0 461.0,434.6 462.0,434.2 463.0,433.8 464.0,433.4 465.0,433.1 466.0,432.8 467.0,432.5 468.0,432.2 469.0,431.8 470.0,431.2 471.0,430.2 472.0,429.0 473.0,427.8 474.0,426.6 475.0,425.6 476.0,424.9 477.0,424.4 478.0,424.0 479.0,423.6 480.0,423.3 481.0,423.0 482.0,422.7 483.0,422.4 484.0,422.0 485.0,421.6 486.0,421.4 487.0,421.2 488.0,421.3 489.0,421.6 490.0,422.2 491.0,423.0 492.0,424.0 493.0,425.1 494.0,426.3 495.0,427.4 496.0,428.5 497.0,429.6 498.0,430.6 499.0,431.7 500.0,432.7 501.0,433.7 502.0,434.7 503.0,435.7 504.0,436.6 505.0,437.3 506.0,437.9 507.0,438.3 508.0,438.7 509.0,439.0 510.0,439.3 511.0,439.5 512.0,439.8 513.0,440.2 514.0,440.5 515.0,440.9 516.0,441.1 517.0,441.1 518.0,440.9 519.0,440.5 520.0,440.1 521.0,439.6 522.0,439.2 523.0,438.7 524.0,438.3 525.0,437.8 526.0,437.4 527.0,437.0 528.0,436.5 529.0,436.1 530.0,435.7 531.0,435.3 532.0,434.8 533.0,434.4 534.0,434.0 535.0,433.6 536.0,433.3 537.0,433.0 538.0,432.9 539.0,432.9 540.0,433.1 541.0,433.5 542.0,434.2 543.0,434.9 544.0,435.7 545.0,436.5 546.0,437.4 547.0,438.2 548.0,439.0 549.0,439.8 550.0,440.7 551.0,441.4 552.0,442.0 553.0,441.5 554.0,440.1 555.0,438.3 556.0,436.7 557.0,435.6 558.0,434.6 559.0,433.6 560.0,432.7 561.0,431.7 562.0,430.7 563.0,429.6 564.0,428.5 565.0,427.3 566.0,426.0 567.0,424.7 568.0,423.2 569.0,421.7 570.0,420.1 571.0,418.4 572.0,416.5 573.0,414.5 574.0,412.4 575.0,410.2 576.0,407.9 577.0,405.5 578.0,403.1 579.0,400.7 580.0,398.3 581.0,396.0 582.0,393.9 583.0,391.9 584.0,390.0 585.0,388.2 586.0,386.5 587.0,384.7 588.0,383.0 589.0,381.2 590.0,379.4 591.0,377.5 592.0,375.5 593.0,373.3 594.0,371.1 595.0,368.6 596.0,366.0 597.0,363.1 598.0,360.0 599.0,356.4 600.0,352.2 601.0,347.8 602.0,343.2 603.0,338.8 604.0,334.4 605.0,330.0 606.0,325.5 607.0,321.0 608.0,316.1 609.0,310.7 610.0,305.4 611.0,300.5 612.0,296.2 613.0,292.4 614.0,288.7 615.0,285.2 616.0,281.8 617.0,278.5 618.0,275.2 619.0,271.9 620.0,268.6 621.0,265.4 622.0,262.4 623.0,259.5 624.0,256.6 625.0,253.8 626.0,251.1 627.0,248.5 628.0,246.0 629.0,243.5 630.0,241.1 631.0,238.8 632.0,236.4 633.0,234.1 634.0,231.7 635.0,229.4 636.0,227.0 637.0,224.6 638.0,222.3 639.0,219.9 640.0,217.5 641.0,215.1 642.0,212.7 643.0,210.1 644.0,207.4 645.0,204.7 646.0,202.3 647.0,200.3 648.0,198.7 649.0,197.3 650.0,196.2 651.0,195.3 652.0,194.4 653.0,193.7 654.0,193.0 655.0,192.3 656.0,191.6 657.0,190.9 658.0,190.2 659.0,189.4 660.0,188.5 661.0,187.5 662.0,186.5 663.0,185.5 664.0,184.5 665.0,183.5 666.0,182.5 667.0,181.5 668.0,180.6 669.0,179.7 670.0,178.8 671.0,177.9 672.0,177.0 673.0,176.1 674.0,175.2 675.0,174.4 676.0,173.6 677.0,172.8 678.0,172.0 679.0,171.3 680.0,170.6 681.0,169.9 682.0,169.3 683.0,168.7 684.0,168.2 685.0,167.6 686.0,167.0 687.0,166.4 688.0,165.9 689.0,165.4 690.0,165.0 691.0,164.7 692.0,164.4 693.0,164.6 694.0,165.0 695.0,165.6 696.0,166.3 697.0,167.0 698.0,167.8 699.0,169.0 700.0,170.3 701.0,171.6 702.0,172.8 703.0,173.9 704.0,174.7 705.0,175.0 706.0,174.8 707.0,174.3 708.0,173.5 709.0,172.7 710.0,172.0 711.0,171.6 712.0,171.2 713.0,170.9 714.0,170.6 715.0,170.5 716.0,170.6 717.0,170.9 718.0,171.3 719.0,171.9 720.0,172.6 721.0,173.3 722.0,174.2 723.0,175.1 724.0,176.1 725.0,177.0 726.0,178.0 727.0,179.0 728.0,180.0 729.0,181.1 730.0,182.1 731.0,183.2 732.0,184.2 733.0,185.3 734.0,186.5 735.0,187.7 736.0,188.9 737.0,190.1 738.0,191.2 739.0,192.4 740.0,193.5 741.0,194.5 742.0,195.1 743.0,195.1 744.0,194.5 745.0,193.1 746.0,191.3 747.0,189.2 748.0,187.2 749.0,185.5 750.0,184.0 751.0,182.6 752.0,181.2 753.0,179.8 754.0,178.3 755.0,176.9 756.0,175.3 757.0,173.7 758.0,172.0 759.0,170.3 760.0,168.6 761.0,166.9 762.0,165.2 763.0,163.5 764.0,161.7 765.0,160.0 766.0,158.4 767.0,156.7 768.0,155.1 769.0,153.4 770.0,151.8 771.0,150.2 772.0,148.5 773.0,146.9 774.0,145.2 775.0,143.5 776.0,141.6 777.0,139.7 778.0,137.6 779.0,135.5 780.0,133.4 781.0,131.3 782.0,129.2 783.0,127.3 784.0,125.5 785.0,123.7 786.0,121.9 787.0,120.2 788.0,118.5 789.0,116.8 790.0,115.1 791.0,113.4 792.0,111.6 793.0,109.9 794.0,108.1 795.0,106.2 796.0,104.3 797.0,102.4 798.0,100.6 799.0,98.8 800.0,97.3 801.0,96.3 802.0,95.9 803.0,95.8 804.0,96.1 805.0,96.5 806.0,97.0 807.0,97.6 808.0,98.3 809.0,98.9 810.0,99.4 811.0,99.8 812.0,100.1 813.0,100.3 814.0,100.5 815.0,100.8 816.0,100.9 817.0,101.0 818.0,101.1 819.0,101.1 820.0,100.9 821.0,100.8 822.0,100.6 823.0,100.4 824.0,100.2 825.0,100.0 826.0,99.8 827.0,99.6 828.0,99.5 829.0,99.3 830.0,99.2 831.0,99.1 832.0,98.9 833.0,98.8 834.0,98.7 835.0,98.6 836.0,98.5 837.0,98.4 838.0,98.2 839.0,97.7 840.0,97.1 841.0,96.4 842.0,95.8 843.0,95.3 844.0,95.0 845.0,95.0 846.0,95.0 847.0,95.2 848.0,95.6 849.0,96.0 850.0,96.5 851.0,97.1 852.0,97.8 853.0,98.5 854.0,99.2 855.0,99.9 856.0,100.6 857.0,101.2 858.0,101.9 859.0,102.6 860.0,103.2 861.0,103.8 862.0,104.4 863.0,105.0 864.0,105.6 865.0,106.2 866.0,106.8 867.0,107.4 868.0,108.1 869.0,108.7 870.0,109.4 871.0,110.2 872.0,111.0 873.0,112.0 874.0,113.0 875.0,114.2 876.0,115.6 877.0,117.2 878.0,119.0 879.0,121.0 880.0,123.1 881.0,125.3 882.0,127.6 883.0,129.8 884.0,132.1 885.0,134.5 886.0,136.8 887.0,139.2 888.0,141.6 889.0,144.0 890.0,146.5 891.0,149.0 892.0,151.5 893.0,154.0 894.0,156.6 895.0,159.2 896.0,161.9 897.0,164.7 898.0,167.5 899.0,170.4 900.0,173.2 901.0,175.9 902.0,178.6 903.0,181.3 904.0,183.9 905.0,186.4 906.0,188.8 907.0,191.1 908.0,193.0 909.0,194.7 910.0,196.1 911.0,197.3 912.0,198.2 913.0,199.0 914.0,199.7 915.0,200.4 916.0,201.0 917.0,201.7 918.0,202.3 919.0,202.8 920.0,203.4 921.0,203.9 922.0,204.5 923.0,205.0 924.0,205.6 925.0,206.0 926.0,206.5 927.0,206.9 928.0,207.2 929.0,207.5 930.0,207.7 931.0,207.8 932.0,207.9 933.0,208.0 934.0,208.1 935.0,208.1 936.0,208.0 937.0,207.9 938.0,207.8 939.0,207.7 940.0,207.5 941.0,207.3 942.0,207.0 943.0,206.7 944.0,206.3 945.0,205.9 946.0,205.5 947.0,205.0 948.0,204.3 949.0,203.6 950.0,202.9 951.0,202.2 952.0,201.5 953.0,200.9 954.0,200.4 955.0,199.9 956.0,199.5 957.0,199.2 958.0,199.0 959.0,199.0 960.0,199.2 961.0,199.3 962.0,199.6 963.0,199.8 964.0,200.0 965.0,200.3 966.0,200.5 967.0,200.8 968.0,201.0 969.0,201.2 970.0,201.5 971.0,201.7 972.0,201.9 973.0,202.2 974.0,202.4 975.0,202.6 976.0,202.7 977.0,202.8 978.0,202.8 979.0,202.7 980.0,202.3 981.0,201.4 982.0,200.3 983.0,198.9 984.0,197.5 985.0,196.3 986.0,195.3 987.0,194.5 988.0,193.7 989.0,192.9 990.0,192.1 991.0,191.3 992.0,190.5 993.0,189.5 994.0,188.5 995.0,187.5 996.0,186.4 997.0,185.3 998.0,184.2 999.0,183.0" fill="none" stroke="#ff00ff" stroke-width="2" stroke-linejoin="round" shape-rendering="crispEdges"/>
<polyline points="0.0,863.7 1.0,864.2 2.0,864.7 3.0,865.2 4.0,865.7 5.0,866.2 6.0,866.6 7.0,867.0 8.0,867.4 9.0,867.8 10.0,868.1 11.0,868.3 12.0,868.3 13.0,868.1 14.0,867.7 15.0,867.1 16.0,866.1 17.0,864.8 18.0,863.2 19.0,861.5 20.0,859.6 21.0,857.7 22.0,855.7 23.0,853.5 24.0,851.0 25.0,848.0 26.0,844.1 27.0,839.8 28.0,835.1 29.0,829.9 30.0,824.8 31.0,820.1 32.0,816.0 33.0,812.2 34.0,808.5 35.0,805.2 36.0,802.1 37.0,798.4 38.0,793.5 39.0,787.9 40.0,781.9 41.0,776.1 42.0,770.9 43.0,766.9 44.0,763.3 45.0,759.9 46.0,756.7 47.0,753.6 48.0,750.6 49.0,747.7 50.0,745.0 51.0,742.2 52.0,739.4 53.0,736.6 54.0,733.9 55.0,731.5 56.0,729.5 57.0,728.0 58.0,726.8 59.0,725.6 60.0,724.4 61.0,723.2 62.0,722.1 63.0,720.9 64.0,719.8 65.0,718.6 66.0,717.4 67.0,716.2 68.0,715.0 69.0,713.7 70.0,712.5 71.0,711.3 72.0,710.0 73.0,708.8 74.0,707.6 75.0,706.4 76.0,705.2 77.0,704.0 78.0,703.4 79.0,703.7 80.0,704.5 81.0,705.4 82.0,706.0 83.0,705.8 84.0,705.0 85.0,703.5 86.0,701.8 87.0,700.1 88.0,698.5 89.0,697.4 90.0,696.9 91.0,697.2 92.0,698.2 93.0,699.6 94.0,701.2 95.0,702.9 96.0,704.5 97.0,705.9 98.0,707.0 99.0,707.7 100.0,708.3 101.0,708.7 102.0,709.2 103.0,709.6 104.0,710.2 105.0,711.0 106.0,712.2 107.0,714.0 108.0,716.2 109.0,718.4 110.0,720.6 111.0,722.4 112.0,723.6 113.0,724.2 114.0,724.4 115.0,724.4 116.0,724.1 117.0,723.6 118.0,722.9 119.0,722.0 120.0,721.0 121.0,719.9 122.0,718.8 123.0,717.7 124.0,716.5 125.0,715.3 126.0,714.0 127.0,712.5 128.0,711.0 129.0,709.4 130.0,707.8 131.0,706.1 132.0,704.4 133.0,702.7 134.0,700.9 135.0,699.0 136.0,697.1 137.0,695.1 138.0,693.2 139.0,691.2 140.0,689.2 141.0,687.2 142.0,685.1 143.0,682.8 144.0,680.7 145.0,678.6 146.0,676.9 147.0,675.6 148.0,674.6 149.0,674.0 150.0,673.7 151.0,673.6 152.0,673.7 153.0,673.9 154.0,674.4 155.0,674.9 156.0,675.6 157.0,676.4 158.0,677.3 159.0,678.6 160.0,680.2 161.0,681.8 162.0,683.3 163.0,684.3 164.0,684.9 165.0,684.9 166.0,684.7 167.0,684.3 168.0,683.6 169.0,682.9 170.0,682.0 171.0,681.1 172.0,680.1 173.0,679.0 174.0,678.0 175.0,676.9 176.0,675.9 177.0,675.0 178.0,674.2 179.0,673.6 180.0,673.2 181.0,672.8 182.0,672.3 183.0,671.8 184.0,670.9 185.0,668.8 186.0,665.0 187.0,659.0 188.0,652.0 189.0,645.9 190.0,641.3 191.0,636.9 192.0,631.8 193.0,625.4 194.0,618.4 195.0,611.5 196.0,605.1 197.0,598.8 198.0,591.8 199.0,580.0 200.0,574.0 201.0,568.3 202.0,562.7 203.0,557.2 204.0,551.8 205.0,546.3 206.0,540.8 207.0,535.4 208.0,530.3 209.0,525.4 210.0,521.1 211.0,517.4 212.0,514.2 213.0,511.4 214.0,508.7 215.0,506.1 216.0,503.5 217.0,501.4 218.0,499.8 219.0,498.3 220.0,496.3 221.0,493.4 222.0,489.2 223.0,484.3 224.0,479.1 225.0,474.0 226.0,469.0 227.0,464.3 228.0,459.6 229.0,455.1 230.0,450.6 231.0,446.5 232.0,443.2 233.0,440.8 234.0,439.2 235.0,438.5 236.0,438.6 237.0,439.3 238.0,440.4 239.0,441.8 240.0,443.6 241.0,445.8 242.0,448.3 243.0,450.8 244.0,453.4 245.0,456.1 246.0,458.8 247.0,461.6 248.0,464.6 249.0,467.8 250.0,471.1 251.0,474.3 252.0,477.0 253.0,479.1 254.0,480.3 255.0,480.8 256.0,480.6 257.0,479.8 258.0,478.5 259.0,477.2 260.0,475.8 261.0,474.6 262.0,473.7 263.0,472.9 264.0,472.2 265.0,471.6 266.0,471.1 267.0,470.9 268.0,470.9 269.0,471.4 270.0,472.6 271.0,474.4 272.0,476.5 273.0,478.9 274.0,481.4 275.0,484.1 276.0,487.2 277.0,490.7 278.0,494.7 279.0,499.2 280.0,503.9 281.0,508.6 282.0,512.8 283.0,516.6 284.0,520.2 285.0,523.6 286.0,526.9 287.0,529.9 288.0,532.2 289.0,533.6 290.0,534.1 291.0,533.1 292.0,530.3 293.0,525.4 294.0,519.3 295.0,513.0 296.0,506.8 297.0,500.8 298.0,494.9 299.0,488.9 300.0,483.1 301.0,477.2 302.0,471.8 303.0,466.7 304.0,461.9 305.0,457.3 306.0,453.0 307.0,449.3 308.0,446.4 309.0,444.4 310.0,443.5 311.0,443.3 312.0,443.4 313.0,443.8 314.0,444.5 315.0,445.3 316.0,446.0 317.0,446.6 318.0,447.4 319.0,448.5 320.0,450.1 321.0,452.2 322.0,454.9 323.0,457.9 324.0,461.0 325.0,464.1 326.0,467.2 327.0,470.1 328.0,472.8 329.0,475.6 330.0,478.4 331.0,481.1 332.0,483.9 333.0,486.7 334.0,489.5 335.0,492.3 336.0,495.1 337.0,497.9 338.0,500.7 339.0,503.3 340.0,505.9 341.0,508.1 342.0,509.4 343.0,510.2 344.0,510.6 345.0,510.9 346.0,511.3 347.0,512.1 348.0,513.1 349.0,514.1 350.0,515.1 351.0,516.1 352.0,517.1 353.0,518.1 354.0,519.2 355.0,520.4 356.0,521.5 357.0,522.3 358.0,521.9 359.0,520.2 360.0,517.4 361.0,513.8 362.0,510.0 363.0,506.0 364.0,501.9 365.0,497.6 366.0,493.2 367.0,488.6 368.0,484.0 369.0,479.6 370.0,475.8 371.0,472.8 372.0,470.3 373.0,468.3 374.0,466.4 375.0,464.6 376.0,463.0 377.0,461.8 378.0,461.5 379.0,462.1 380.0,463.3 381.0,464.5 382.0,465.8 383.0,467.1 384.0,468.4 385.0,469.6 386.0,470.9 387.0,472.3 388.0,473.7 389.0,474.9 390.0,475.7 391.0,476.1 392.0,475.7 393.0,474.7 394.0,473.3 395.0,471.9 396.0,470.6 397.0,469.5 398.0,468.3 399.0,467.1 400.0,465.9 401.0,464.8 402.0,463.7 403.0,462.5 404.0,461.6 405.0,461.2 406.0,461.6 407.0,462.5 408.0,463.6 409.0,464.7 410.0,465.9 411.0,467.1 412.0,468.2 413.0,469.4 414.0,470.7 415.0,472.0 416.0,473.3 417.0,474.5 418.0,475.5 419.0,476.2 420.0,475.7 421.0,474.3 422.0,472.4 423.0,470.6 424.0,468.9 425.0,467.2 426.0,465.4 427.0,463.5 428.0,461.5 429.0,459.4 430.0,456.9 431.0,454.0 432.0,450.7 433.0,447.0 434.0,442.3 435.0,436.5 436.0,430.4 437.0,424.8 438.0,420.4 439.0,416.4 440.0,412.8 441.0,409.9 442.0,408.0 443.0,406.7 444.0,405.6 445.0,404.4 446.0,403.3 447.0,402.1 448.0,400.9 449.0,399.9 450.0,398.9 451.0,398.0 452.0,398.0 453.0,399.3 454.0,401.5 455.0,404.1 456.0,406.8 457.0,409.7 458.0,412.7 459.0,415.7 460.0,418.4 461.0,420.9 462.0,423.4 463.0,425.7 464.0,427.8 465.0,429.6 466.0,431.1 467.0,432.3 468.0,433.4 469.0,434.3 470.0,435.2 471.0,436.0 472.0,436.9 473.0,437.9 474.0,438.9 475.0,439.6 476.0,439.9 477.0,439.7 478.0,439.1 479.0,438.4 480.0,437.7 481.0,437.0 482.0,436.3 483.0,435.6 484.0,434.8 485.0,433.8 486.0,432.9 487.0,432.2 488.0,431.8 489.0,431.8 490.0,432.4 491.0,433.4 492.0,434.7 493.0,436.1 494.0,437.5 495.0,438.7 496.0,439.9 497.0,441.1 498.0,442.3 499.0,443.5 500.0,444.6 501.0,445.8 502.0,447.0 503.0,447.9 504.0,448.7 505.0,449.3 506.0,449.7 507.0,449.9 508.0,450.0 509.0,450.0 510.0,449.8 511.0,449.5 512.0,449.1 513.0,448.6 514.0,448.0 515.0,447.3 516.0,446.4 517.0,445.5 518.0,444.5 519.0,443.6 520.0,442.6 521.0,441.6 522.0,440.6 523.0,439.5 524.0,438.4 525.0,437.3 526.0,436.1 527.0,434.9 528.0,433.7 529.0,432.4 530.0,431.1 531.0,429.6 532.0,427.9 533.0,426.0 534.0,424.1 535.0,422.3 536.0,420.6 537.0,418.7 538.0,416.7 539.0,415.0 540.0,414.1 541.0,414.4 542.0,416.6 543.0,419.6 544.0,422.9 545.0,426.3 546.0,429.6 547.0,432.8 548.0,436.1 549.0,439.4 550.0,442.5 551.0,445.4 552.0,447.4 553.0,447.4 554.0,445.8 555.0,443.5 556.0,441.3 557.0,439.8 558.0,438.6 559.0,437.2 560.0,435.5 561.0,433.1 562.0,429.6 563.0,424.9 564.0,419.4 565.0,413.5 566.0,407.4 567.0,401.4 568.0,395.1 569.0,388.7 570.0,382.6 571.0,376.9 572.0,372.3 573.0,368.7 574.0,365.8 575.0,363.2 576.0,361.5 577.0,359.3 578.0,355.6 579.0,351.8 580.0,348.0 581.0,344.2 582.0,340.5 583.0,336.8 584.0,333.2 585.0,329.6 586.0,326.0 587.0,322.4 588.0,318.8 589.0,315.2 590.0,311.5 591.0,307.9 592.0,304.2 593.0,300.5 594.0,297.1 595.0,294.6 596.0,292.4 597.0,289.6 598.0,285.0 599.0,278.5 600.0,271.0 601.0,263.5 602.0,256.3 603.0,249.1 604.0,242.3 605.0,236.4 606.0,231.9 607.0,228.3 608.0,224.9 609.0,221.3 610.0,217.8 611.0,214.3 612.0,211.0 613.0,207.7 614.0,204.5 615.0,201.8 616.0,199.8 617.0,199.0 618.0,198.9 619.0,198.9 620.0,198.9 621.0,198.9 622.0,199.0 623.0,199.0 624.0,199.0 625.0,199.0 626.0,198.9 627.0,198.9 628.0,198.8 629.0,198.7 630.0,198.6 631.0,198.6 632.0,198.5 633.0,198.2 634.0,197.9 635.0,197.4 636.0,196.7 637.0,195.9 638.0,194.9 639.0,192.9 640.0,189.7 641.0,186.0 642.0,182.3 643.0,179.4 644.0,177.6 645.0,176.3 646.0,175.4 647.0,174.9 648.0,174.7 649.0,174.5 650.0,174.5 651.0,174.8 652.0,175.5 653.0,176.2 654.0,177.1 655.0,177.9 656.0,178.8 657.0,179.6 658.0,180.4 659.0,181.2 660.0,181.9 661.0,182.6 662.0,183.1 663.0,183.3 664.0,183.2 665.0,182.7 666.0,181.1 667.0,178.5 668.0,175.2 669.0,171.6 670.0,168.0 671.0,164.5 672.0,160.8 673.0,156.9 674.0,153.2 675.0,149.9 676.0,147.0 677.0,144.8 678.0,143.4 679.0,142.9 680.0,142.8 681.0,143.0 682.0,143.4 683.0,143.9 684.0,144.6 685.0,145.3 686.0,146.1 687.0,147.0 688.0,148.0 689.0,149.2 690.0,150.7 691.0,152.6 692.0,155.0 693.0,158.0 694.0,161.6 695.0,165.6 696.0,169.6 697.0,173.3 698.0,176.6 699.0,179.8 700.0,182.8 701.0,185.7 702.0,188.5 703.0,190.9 704.0,193.0 705.0,194.8 706.0,196.3 707.0,197.6 708.0,198.6 709.0,199.2 710.0,199.3 711.0,198.7 712.0,198.1 713.0,197.4 714.0,196.7 715.0,195.9 716.0,195.2 717.0,194.4 718.0,193.5 719.0,192.7 720.0,191.8 721.0,191.0 722.0,190.2 723.0,189.5 724.0,189.1 725.0,189.1 726.0,189.4 727.0,189.9 728.0,190.6 729.0,191.4 730.0,192.4 731.0,193.3 732.0,194.2 733.0,195.2 734.0,196.3 735.0,197.3 736.0,198.3 737.0,199.3 738.0,200.2 739.0,201.1 740.0,201.9 741.0,202.6 742.0,203.2 743.0,203.2 744.0,201.2 745.0,197.7 746.0,193.0 747.0,188.1 748.0,183.0 749.0,177.7 750.0,172.0 751.0,166.2 752.0,160.3 753.0,154.4 754.0,148.5 755.0,142.6 756.0,136.6 757.0,130.5 758.0,124.4 759.0,118.4 760.0,112.8 761.0,108.1 762.0,104.4 763.0,102.2 764.0,101.3 765.0,100.8 766.0,100.3 767.0,100.0 768.0,99.6 769.0,99.2 770.0,98.7 771.0,98.2 772.0,97.6 773.0,97.1 774.0,96.5 775.0,95.8 776.0,94.9 777.0,93.6 778.0,91.9 779.0,89.9 780.0,87.8 781.0,85.6 782.0,83.7 783.0,81.9 784.0,80.3 785.0,78.8 786.0,77.5 787.0,76.4 788.0,75.5 789.0,75.2 790.0,75.6 791.0,76.6 792.0,78.1 793.0,80.1 794.0,82.3 795.0,84.4 796.0,86.7 797.0,89.0 798.0,91.4 799.0,93.8 800.0,96.2 801.0,98.6 802.0,101.1 803.0,103.6 804.0,106.6 805.0,110.0 806.0,113.2 807.0,116.0 808.0,118.1 809.0,119.7 810.0,120.8 811.0,121.7 812.0,122.4 813.0,123.0 814.0,123.6 815.0,124.1 816.0,124.4 817.0,124.6 818.0,124.5 819.0,124.2 820.0,123.5 821.0,122.5 822.0,121.0 823.0,119.0 824.0,116.7 825.0,114.0 826.0,110.9 827.0,107.5 828.0,104.0 829.0,100.8 830.0,98.2 831.0,96.2 832.0,94.6 833.0,93.1 834.0,91.3 835.0,89.0 836.0,86.0 837.0,82.5 838.0,79.0 839.0,75.5 840.0,72.6 841.0,69.9 842.0,67.5 843.0,65.4 844.0,63.6 845.0,62.4 846.0,62.0 847.0,62.6 848.0,63.8 849.0,65.7 850.0,68.1 851.0,71.2 852.0,75.2 853.0,79.7 854.0,84.4 855.0,89.2 856.0,94.2 857.0,99.2 858.0,104.3 859.0,109.5 860.0,116.0 861.0,123.6 862.0,131.4 863.0,138.3 864.0,143.4 865.0,147.7 866.0,151.2 867.0,154.0 868.0,156.2 869.0,157.9 870.0,159.4 871.0,160.8 872.0,162.3 873.0,164.0 874.0,166.1 875.0,168.3 876.0,170.7 877.0,173.2 878.0,176.0 879.0,179.4 880.0,183.3 881.0,187.3 882.0,190.8 883.0,193.6 884.0,196.0 885.0,198.3 886.0,200.6 887.0,202.9 888.0,205.4 889.0,208.1 890.0,210.8 891.0,213.7 892.0,216.4 893.0,219.0 894.0,221.3 895.0,223.1 896.0,224.2 897.0,224.4 898.0,224.0 899.0,223.4 900.0,222.8 901.0,222.1 902.0,221.4 903.0,220.7 904.0,220.0 905.0,219.3 906.0,218.5 907.0,217.7 908.0,216.1 909.0,213.5 910.0,210.6 911.0,208.3 912.0,207.1 913.0,206.2 914.0,205.4 915.0,204.7 916.0,203.9 917.0,203.0 918.0,201.9 919.0,200.6 920.0,199.3 921.0,198.0 922.0,197.0 923.0,196.3 924.0,196.5 925.0,197.5 926.0,198.9 927.0,200.2 928.0,200.9 929.0,201.0 930.0,200.8 931.0,200.6 932.0,200.3 933.0,200.0 934.0,199.8 935.0,199.8 936.0,200.1 937.0,200.6 938.0,201.3 939.0,202.0 940.0,202.6 941.0,202.9 942.0,203.0 943.0,202.4 944.0,201.3 945.0,199.9 946.0,198.5 947.0,197.3 948.0,196.6 949.0,196.3 950.0,196.4 951.0,196.7 952.0,197.1 953.0,197.4 954.0,197.6 955.0,197.6 956.0,197.1 957.0,196.1 958.0,195.3 959.0,195.0 960.0,195.4 961.0,196.1 962.0,197.0 963.0,198.1 964.0,199.0 965.0,199.7 966.0,200.1 967.0,200.3 968.0,200.5 969.0,200.6 970.0,200.8 971.0,200.8 972.0,200.9 973.0,201.0 974.0,201.0 975.0,201.0 976.0,201.2 977.0,201.4 978.0,201.5 979.0,201.2 980.0,200.5 981.0,199.0 982.0,196.9 983.0,194.4 984.0,191.7 985.0,188.8 986.0,186.0 987.0,183.3 988.0,180.5 989.0,177.8 990.0,175.0 991.0,172.1 992.0,169.2 993.0,166.0 994.0,162.7 995.0,159.5 996.0,156.4 997.0,153.8 998.0,151.6 999.0,149.7" fill="none" stroke="#ffa500" stroke-width="2" stroke-linejoin="round" shape-rendering="crispEdges"/>
<g shape-rendering="crispEdges" fill="#ff0000">
<rect x="0" y="628" width="67" height="1"/>
<rect x="67" y="629" width="186" height="1"/>
<rect x="253" y="630" width="188" height="1"/>
<rect x="441" y="631" width="188" height="1"/>
<rect x="629" y="632" width="188" height="1"/>
<rect x="817" y="633" width="188" height="1"/>
<rect x="1005" y="634" width="188" height="1"/>
<rect x="1193" y="635" width="87" height="1"/>
</g>
<rect x="641" y="92" width="565" height="4" fill="#fb3030" shape-rendering="crispEdges"/>
<rect x="919" y="162.4" width="258" height="3" fill="#fb2d2d"/>
<polygon points="1009.9,159.8 1010.6,159.8 1020.3,98 1015.3,98" fill="#3a5fd7"/>
<polygon points="1018.4,88.8 1012.5,98.6 1023,98.6" fill="#3a5fd7"/>
<polygon points="1019.8,89 1021.2,88.2 1032,108.3 1027.3,110.8" fill="#3a5fd7"/>
<polygon points="1034.7,119 1025.2,112 1035.3,106.8" fill="#3a5fd7"/>
<polygon points="1034.2,118.3 1035.2,118.3 1041,62.5 1036.9,62.5" fill="#3a5fd7"/>
<polygon points="1038.9,54 1033.9,63.4 1044.3,63.4" fill="#3a5fd7"/>
<g shape-rendering="crispEdges" fill="#000">
<rect x="1280" y="0" width="1" height="895"/>
<rect x="1281" y="5" width="2" height="1"/>
<rect x="1281" y="38" width="2" height="1"/>
<rect x="1281" y="71" width="2" height="1"/>
<rect x="1281" y="104" width="2" height="1"/>
<rect x="1281" y="137" width="2" height="1"/>
<rect x="1281" y="170" width="2" height="1"/>
<rect x="1281" y="203" width="2" height="1"/>
<rect x="1281" y="236" width="2" height="1"/>
<rect x="1281" y="269" width="2" height="1"/>
<rect x="1281" y="302" width="2" height="1"/>
<rect x="1281" y="335" width="2" height="1"/>
<rect x="1281" y="368" width="2" height="1"/>
<rect x="1281" y="401" width="2" height="1"/>
<rect x="1281" y="434" width="2" height="1"/>
<rect x="1281" y="467" width="2" height="1"/>
<rect x="1281" y="500" width="2" height="1"/>
<rect x="1281" y="533" width="2" height="1"/>
<rect x="1281" y="566" width="2" height="1"/>
<rect x="1281" y="599" width="2" height="1"/>
<rect x="1281" y="632" width="2" height="1"/>
<rect x="1281" y="665" width="2" height="1"/>
<rect x="1281" y="698" width="2" height="1"/>
<rect x="1281" y="731" width="2" height="1"/>
<rect x="1281" y="764" width="2" height="1"/>
<rect x="1281" y="797" width="2" height="1"/>
<rect x="1281" y="830" width="2" height="1"/>
<rect x="1281" y="863" width="2" height="1"/>
<rect x="1281" y="896" width="2" height="1"/>
</g>
<g font-family="Liberation Sans, sans-serif" font-size="10.2px" text-rendering="geometricPrecision" fill="#000" stroke="#000" stroke-width="0.15">
<text x="1286.5" y="9.3" textLength="32.5" lengthAdjust="spacingAndGlyphs">1564.20</text>
<text x="1286.5" y="42.3" textLength="32.5" lengthAdjust="spacingAndGlyphs">1553.10</text>
<text x="1286.5" y="75.3" textLength="32.5" lengthAdjust="spacingAndGlyphs">1542.30</text>
<text x="1286.5" y="108.3" textLength="32.5" lengthAdjust="spacingAndGlyphs">1531.50</text>
<text x="1286.5" y="207.3" textLength="32.5" lengthAdjust="spacingAndGlyphs">1498.80</text>
<text x="1286.5" y="240.3" textLength="32.5" lengthAdjust="spacingAndGlyphs">1488.00</text>
<text x="1286.5" y="273.3" textLength="32.5" lengthAdjust="spacingAndGlyphs">1477.20</text>
<text x="1286.5" y="306.3" textLength="32.5" lengthAdjust="spacingAndGlyphs">1466.10</text>
<text x="1286.5" y="339.3" textLength="32.5" lengthAdjust="spacingAndGlyphs">1455.30</text>
<text x="1286.5" y="372.3" textLength="32.5" lengthAdjust="spacingAndGlyphs">1444.50</text>
<text x="1286.5" y="405.3" textLength="32.5" lengthAdjust="spacingAndGlyphs">1433.70</text>
<text x="1286.5" y="438.3" textLength="32.5" lengthAdjust="spacingAndGlyphs">1422.60</text>
<text x="1286.5" y="471.3" textLength="32.5" lengthAdjust="spacingAndGlyphs">1411.80</text>
<text x="1286.5" y="504.3" textLength="32.5" lengthAdjust="spacingAndGlyphs">1401.00</text>
<text x="1286.5" y="537.3" textLength="32.5" lengthAdjust="spacingAndGlyphs">1390.20</text>
<text x="1286.5" y="570.3" textLength="32.5" lengthAdjust="spacingAndGlyphs">1379.10</text>
<text x="1286.5" y="603.3" textLength="32.5" lengthAdjust="spacingAndGlyphs">1368.30</text>
<text x="1286.5" y="636.3" textLength="32.5" lengthAdjust="spacingAndGlyphs">1357.50</text>
<text x="1286.5" y="669.3" textLength="32.5" lengthAdjust="spacingAndGlyphs">1346.70</text>
<text x="1286.5" y="702.3" textLength="32.5" lengthAdjust="spacingAndGlyphs">1335.60</text>
<text x="1286.5" y="735.3" textLength="32.5" lengthAdjust="spacingAndGlyphs">1324.80</text>
<text x="1286.5" y="768.3" textLength="32.5" lengthAdjust="spacingAndGlyphs">1314.00</text>
<text x="1286.5" y="801.3" textLength="32.5" lengthAdjust="spacingAndGlyphs">1303.20</text>
<text x="1286.5" y="834.3" textLength="32.5" lengthAdjust="spacingAndGlyphs">1292.10</text>
<text x="1286.5" y="867.3" textLength="32.5" lengthAdjust="spacingAndGlyphs">1281.30</text>
<text x="1286.5" y="900.3" textLength="32.5" lengthAdjust="spacingAndGlyphs">1270.50</text>
<text x="1266.5" y="25.3" textLength="12.5" lengthAdjust="spacingAndGlyphs">0.0</text>
<text x="1261.5" y="137.3" textLength="17.5" lengthAdjust="spacingAndGlyphs">23.6</text>
<text x="1261.5" y="207.3" textLength="17.5" lengthAdjust="spacingAndGlyphs">38.2</text>
<text x="1261.5" y="263.3" textLength="17.5" lengthAdjust="spacingAndGlyphs">50.0</text>
<text x="1261.5" y="320.3" textLength="17.5" lengthAdjust="spacingAndGlyphs">61.8</text>
<text x="1256.5" y="502.3" textLength="22.5" lengthAdjust="spacingAndGlyphs">100.0</text>
<text x="1256.5" y="797.3" textLength="22.5" lengthAdjust="spacingAndGlyphs">161.8</text>
</g>
<g shape-rendering="crispEdges">
<rect x="1282" y="132" width="41" height="2" fill="#000"/>
<rect x="1282" y="86" width="41" height="11" fill="#a0522d"/>
<rect x="1282" y="104" width="41" height="11" fill="#a0522d"/>
<rect x="1282" y="115" width="41" height="11" fill="#a0522d"/>
<rect x="1282" y="134" width="41" height="11" fill="#9acd32"/>
<rect x="1282" y="152" width="41" height="11" fill="#a0522d"/>
<rect x="1282" y="163" width="41" height="11" fill="#a0522d"/>
<rect x="1282" y="181" width="41" height="11" fill="#a0522d"/>
</g>
<g font-family="Liberation Sans, sans-serif" font-size="10.2px" text-rendering="geometricPrecision" fill="#fff" stroke="#fff" stroke-width="0.15">
<text x="1287" y="95.3" textLength="32" lengthAdjust="spacingAndGlyphs">1535.32</text>
<text x="1287" y="113.3" textLength="32" lengthAdjust="spacingAndGlyphs">1529.51</text>
<text x="1287" y="124.3" textLength="32" lengthAdjust="spacingAndGlyphs">1525.74</text>
<text x="1287" y="143.3" textLength="32" lengthAdjust="spacingAndGlyphs">1519.78</text>
<text x="1287" y="161.3" textLength="32" lengthAdjust="spacingAndGlyphs">1513.81</text>
<text x="1287" y="172.3" textLength="32" lengthAdjust="spacingAndGlyphs">1510.04</text>
<text x="1287" y="190.3" textLength="32" lengthAdjust="spacingAndGlyphs">1504.23</text>
</g>
<polygon points="1280,180.8 1288.3,183.4 1280,188" fill="#000"/>
<polygon points="1276.3,365 1286.5,369.3 1278.3,374.7" fill="#000"/>
</svg>
</body></html>
